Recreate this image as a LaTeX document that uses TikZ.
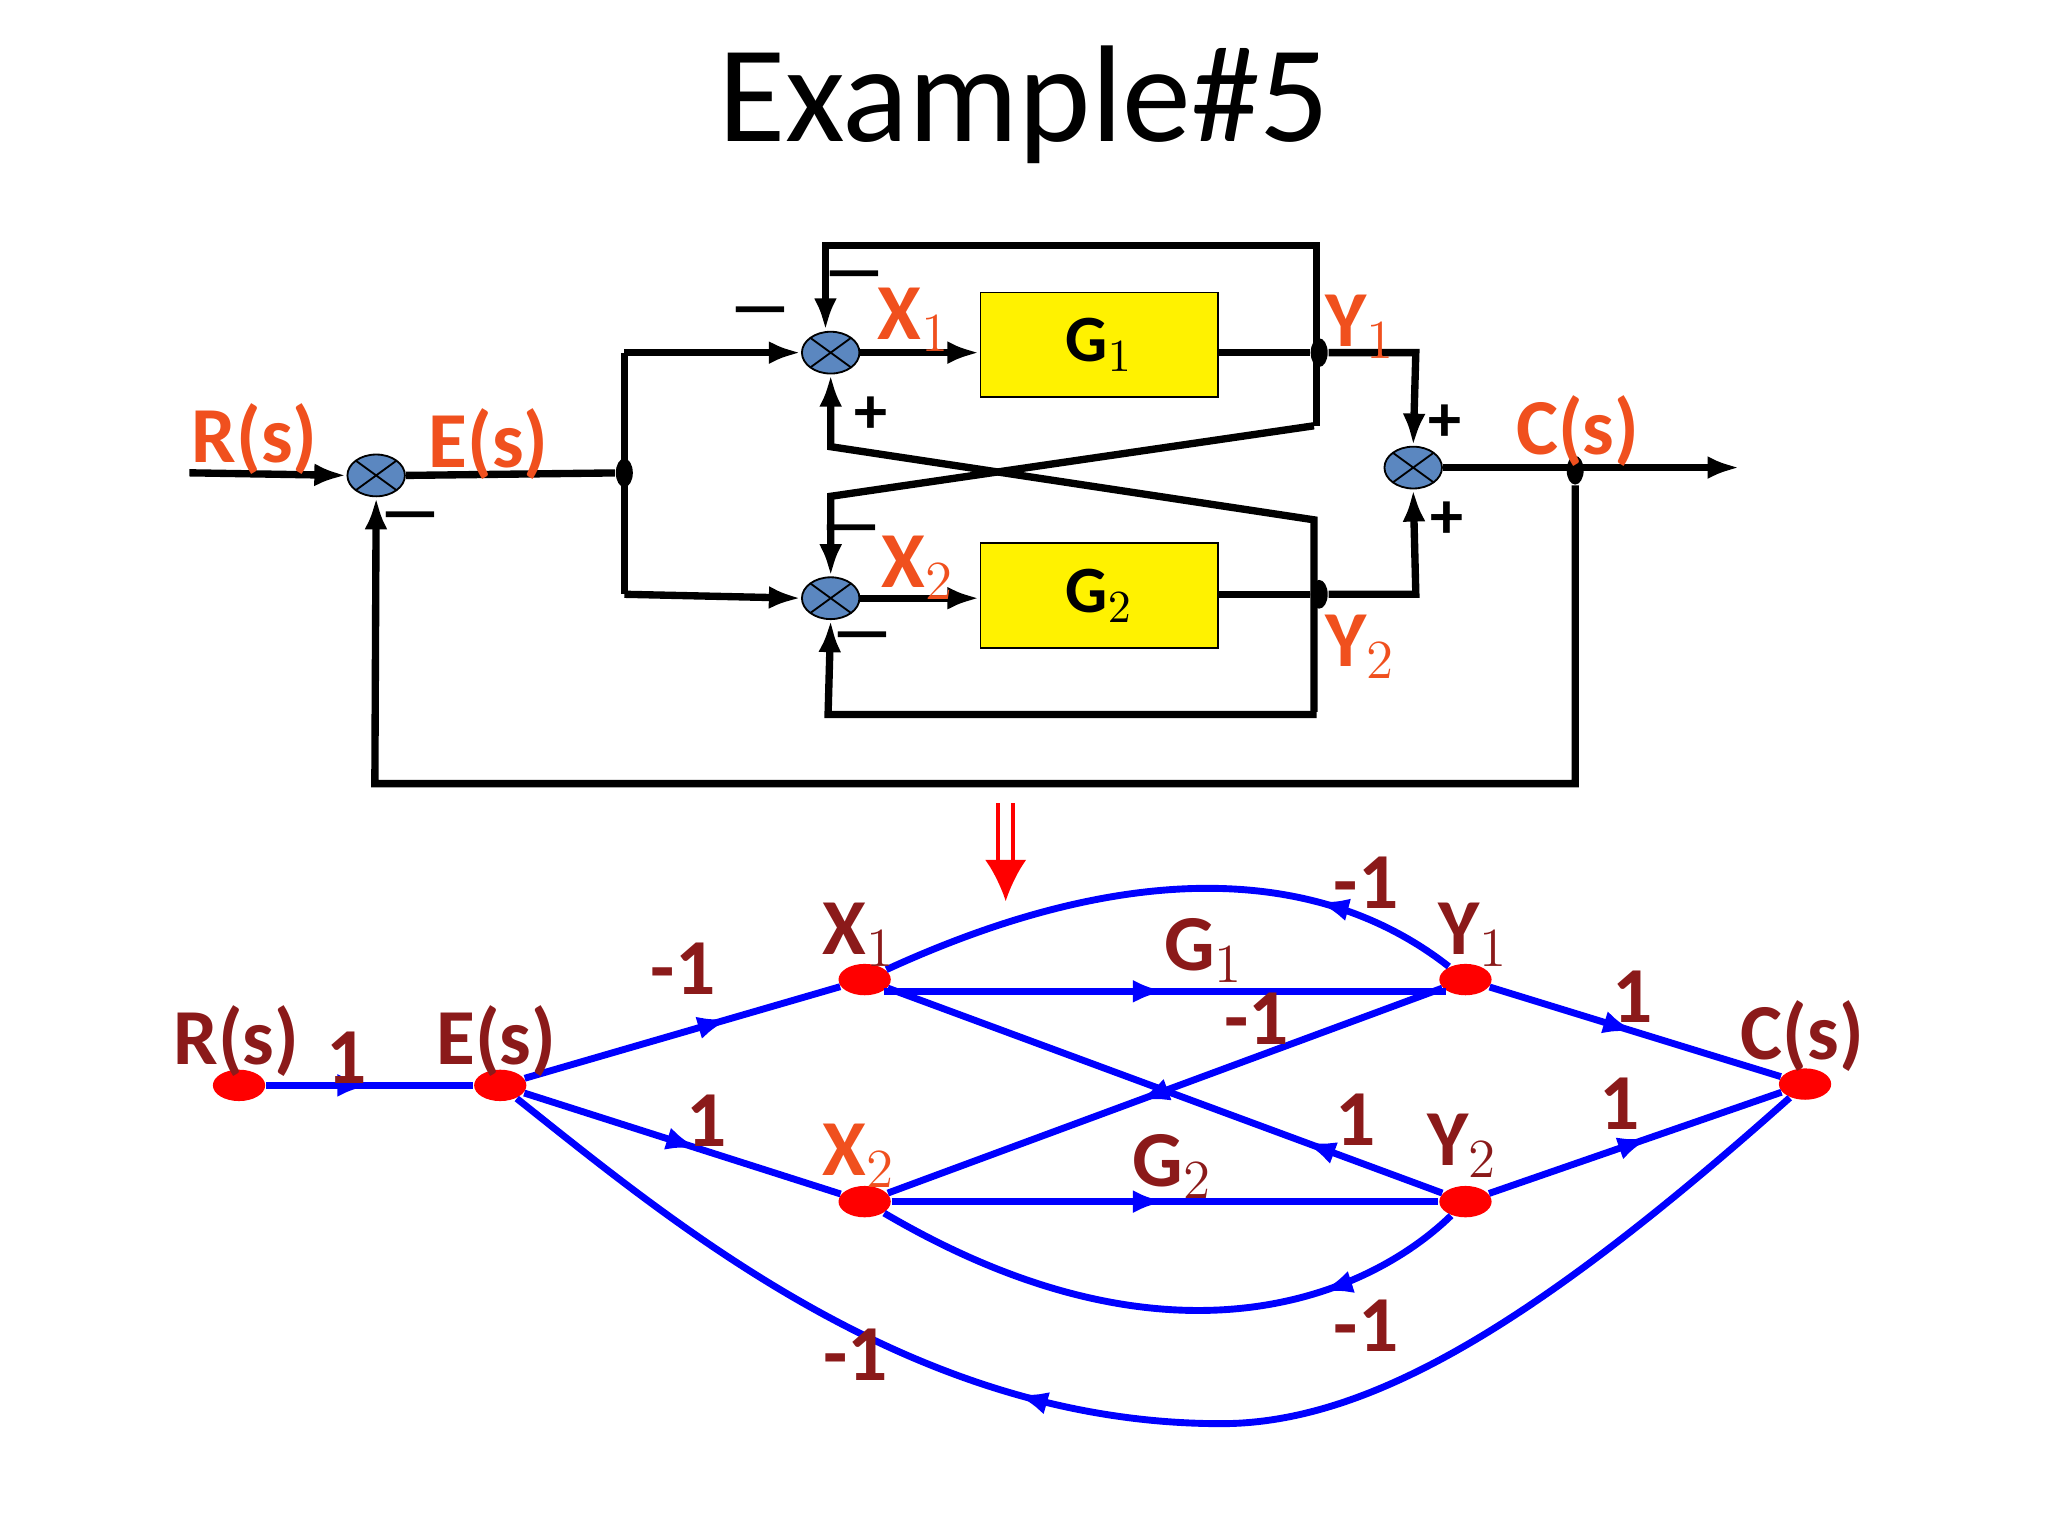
\documentclass[tikz,border=0pt]{standalone}
\usepackage{fontspec}
\setmainfont{Carlito}
\usetikzlibrary{arrows.meta,decorations.markings,shapes.geometric}
\definecolor{lab}{HTML}{F0501E}
\definecolor{dred}{HTML}{8B1A1A}
\definecolor{sumc}{HTML}{5B87C0}
\begin{document}
\begin{tikzpicture}[x=0.01cm,y=-0.01cm,
 sum/.style={ellipse,draw,fill=sumc,minimum width=0.44cm,minimum height=0.32cm,inner sep=0,
   path picture={\draw (path picture bounding box.north west)--(path picture bounding box.south east)
   (path picture bounding box.south west)--(path picture bounding box.north east);}},
 blk/.style={draw,fill=yellow,minimum width=1.82cm,minimum height=0.8cm,font=\bfseries\Large},
 dot/.style={ellipse,fill=black,minimum width=0.13cm,minimum height=0.22cm,inner sep=0},
 w/.style={line width=1.6pt},
 ar/.style={w,-{Latex[length=7pt,width=5pt]}},
 lb/.style={text=lab,font=\bfseries\LARGE},
 sg/.style={font=\bfseries\Large},
 sn/.style={ellipse,fill=red,minimum width=0.4cm,minimum height=0.24cm,inner sep=0},
 sl/.style={text=dred,font=\bfseries\LARGE},
 e/.style={blue,line width=1.5pt,postaction={decorate},decoration={markings,mark=at position #1 with {\arrow{Latex[length=7pt,width=5pt]}}}},
 e/.default=0.5]
\useasboundingbox (0,0) rectangle (1568,1176);
\node[font=\fontsize{30}{36}\selectfont] (title) at (784,80) {Example\#5};
% block diagram
\coordinate (in) at (145,362);
\node[sum] (s0) at (288,364) {};
\node[dot] (j0) at (478,362) {};
\node[sum] (s1) at (636,270) {};
\node[sum] (s2) at (636,458) {};
\node[blk,anchor=west] (g1) at (750,264) {G$_1$};
\node[blk,anchor=west] (g2) at (750,456) {G$_2$};
\node[dot] (j1) at (1010,270) {};
\node[dot] (j2) at (1010,455) {};
\node[sum] (s3) at (1082,358) {};
\node[dot] (j3) at (1206,360) {};
\coordinate (out) at (1332,358);
\draw[ar] (in) -- (s0.west);
\draw[w] (s0.east) -- (j0);
\draw[w] (478,270) -- (478,455);
\draw[ar] (478,270) -- (s1.west);
\draw[ar] (478,455) -- (s2.west);
\draw[ar] (s1.east) -- (g1.west|-s1);
\draw[ar] (s2.east) -- (g2.west|-s2);
\draw[w] (g1.east|-j1) -- (j1);
\draw[w] (g2.east|-j2) -- (j2);
\draw[ar] (j1) -- (1084,270) -- (s3.north);
\draw[ar] (j2) -- (1084,455) -- (s3.south);
\draw[ar] (s3.east) -- (out);
\draw[ar] (j3) -- (1206,600) -- (287,600) -- (s0.south);
\draw[ar] (1008,326) -- (1008,188) -- (632,188) -- (632,253);
\draw[ar] (1006,326) -- (636,380) -- (s2.north);
\draw[ar] (1006,545) -- (1006,398) -- (636,342) -- (s1.south);
\draw[ar] (1008,547) -- (634,547) -- (s2.south);
\node[lb] at (195,336) {R(s)};
\node[lb] at (374,340) {E(s)};
\node[lb] at (700,245) {X$_1$};
\node[lb] at (703,435) {X$_2$};
\node[lb] at (1042,250) {Y$_1$};
\node[lb] at (1042,495) {Y$_2$};
\node[lb] at (1208,330) {C(s)};
\node[sg] at (582,243) {---};
\node[sg] at (654,216) {---};
\node[sg] at (667,318) {+};
\node[sg] at (652,410) {---};
\node[sg] at (660,492) {---};
\node[sg] at (314,400) {---};
\node[sg] at (1106,324) {+};
\node[sg] at (1108,398) {+};
\draw[red,double,line width=0.8pt,double distance=2.5pt,-{Latex[length=9pt,width=9pt]}] (770,615) -- (770,690);
% signal flow graph
\node[sn] (R) at (183,831) {};
\node[sn] (E) at (383,831) {};
\node[sn] (X1) at (662,750) {};
\node[sn] (X2) at (662,920) {};
\node[sn] (Y1) at (1122,750) {};
\node[sn] (Y2) at (1122,920) {};
\node[sn] (C) at (1382,830) {};
\draw[e] (R) -- (E);
\draw[e=0.65] (E) -- (X1);
\draw[e=0.55] (E) -- (X2);
\draw[e] (X1.south east) -- (Y1.south west);
\draw[e] (X2.east) -- (Y2.west);
\draw[e] (Y1) -- (C);
\draw[e=0.55] (Y2) -- (C);
\draw[e=0.55] (Y1) -- (X2);
\draw[e=0.25] (Y2) -- (X1);
\draw[e=0.25] (Y1) .. controls (1020,670) and (880,650) .. (X1);
\draw[e=0.25] (Y2) .. controls (1050,990) and (900,1060) .. (X2);
\draw[e=0.6] (C) .. controls (1180,1010) and (1050,1090) .. (935,1090) .. controls (700,1090) and (520,940) .. (E);
\node[sl] at (181,797) {R(s)};
\node[sl] at (380,797) {E(s)};
\node[sl] at (658,716) {X$_1$};
\node[lb] at (658,885) {X$_2$};
\node[sl] at (1128,716) {Y$_1$};
\node[sl] at (1120,877) {Y$_2$};
\node[sl] at (1380,793) {C(s)};
\node[sl] at (265,810) {1};
\node[sl] at (523,742) {-1};
\node[sl] at (541,858) {1};
\node[sl] at (922,728) {G$_1$};
\node[sl] at (898,893) {G$_2$};
\node[sl] at (1250,763) {1};
\node[sl] at (1240,845) {1};
\node[sl] at (1046,676) {-1};
\node[sl] at (962,780) {-1};
\node[sl] at (1038,857) {1};
\node[sl] at (1046,1015) {-1};
\node[sl] at (655,1037) {-1};
\end{tikzpicture}
\end{document}
